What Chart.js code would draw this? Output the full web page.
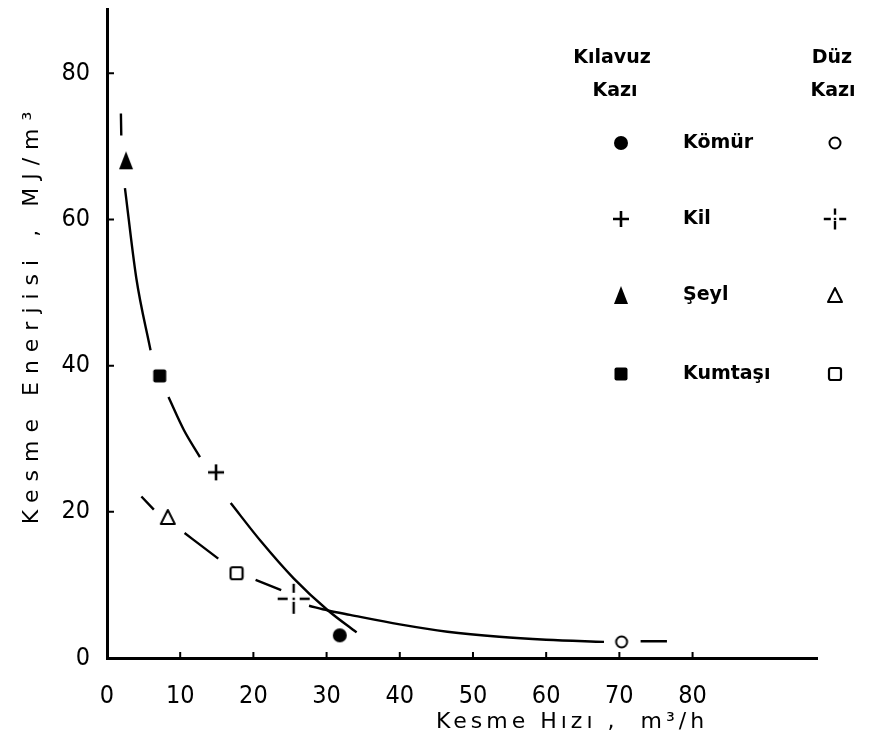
<!DOCTYPE html>
<html><head><meta charset="utf-8">
<script src="https://cdn.jsdelivr.net/npm/chart.js@4/dist/chart.umd.min.js"></script>
<style>html,body{margin:0;padding:0;background:#fff}#wrap{width:869px;height:748px;position:relative}</style>
</head><body><div id="wrap"><canvas id="c"></canvas></div>
<script>
// ---- data ----
const materials = ['Kömür', 'Kil', 'Şeyl', 'Kumtaşı'];
const kilavuzX = [31.8, 14.9, 2.6, 7.2];
const kilavuzY = [3.1, 25.4, 68.1, 38.6];
const duzX = [70.3, 25.5, 8.3, 17.7];
const duzY = [2.2, 8.1, 19.3, 11.6];
const kilavuzCurveX = [1.9, 1.95, null, 2.45, 4.0, 5.95, null, 8.4, 10.5, 12.7, null, 16.9, 21.0, 25.5, 30.2, 34.1];
const kilavuzCurveY = [74.5, 71.5, null, 64.3, 52.0, 42.1, null, 35.7, 31.2, 27.5, null, 21.2, 16.0, 10.9, 6.5, 3.5];
const duzCurveX = [4.7, 6.4, null, 10.6, 15.2, null, 20.3, 23.8, null, 27.6, 30.2, 33.2, 40.0, 46.5, 53.6, 60.0, 67.9, null, 72.9, 76.5];
const duzCurveY = [22.1, 20.3, null, 17.1, 13.6, null, 10.7, 9.3, null, 7.15, 6.5, 5.9, 4.6, 3.6, 2.9, 2.5, 2.2, null, 2.3, 2.3];
const xTicks = [0, 10, 20, 30, 40, 50, 60, 70, 80];
const yTicks = [0, 20, 40, 60, 80];
const xMax = 97, yMax = 88.8;
const xTitle = 'Kesme Hızı ,  m³/h';
const yTitle = 'Kesme Enerjisi , MJ/m³';
const legendHeadL = ['Kılavuz', 'Kazı'];
const legendHeadR = ['Düz', 'Kazı'];

// ---- marker glyphs ----
function mk(w, h, draw) {
  const c = document.createElement('canvas'); c.width = w; c.height = h;
  const g = c.getContext('2d'); g.fillStyle = '#000'; g.strokeStyle = '#000'; g.lineCap = 'butt';
  draw(g, w, h); return c;
}
function dashedCross(s) {
  const w = Math.round(34 * s), h = Math.round(32 * s);
  return mk(w, h, (g) => {
    const cx = w / 2, cy = h / 2;
    g.lineWidth = 2.4;
    g.beginPath();
    g.moveTo(cx - 16 * s, cy); g.lineTo(cx - 6 * s, cy);
    g.moveTo(cx + 6 * s, cy); g.lineTo(cx + 16 * s, cy);
    g.moveTo(cx, cy - 15 * s); g.lineTo(cx, cy - 6 * s);
    g.moveTo(cx, cy + 3 * s); g.lineTo(cx, cy + 15 * s);
    g.stroke();
    g.fillRect(cx - 1.2, cy - 1.2, 2.4, 2.4);
  });
}
const M = {
  filledCircle: mk(16, 16, g => { g.beginPath(); g.arc(8, 8, 7, 0, 2 * Math.PI); g.fill(); }),
  plus: mk(18, 18, g => { g.lineWidth = 2.6; g.beginPath(); g.moveTo(1, 9); g.lineTo(17, 9); g.moveTo(9, 1); g.lineTo(9, 17); g.stroke(); }),
  filledTriangle: mk(16, 20, g => { g.beginPath(); g.moveTo(8, 1); g.lineTo(15, 19); g.lineTo(1, 19); g.closePath(); g.fill(); }),
  filledSquare: mk(16, 16, g => { g.beginPath(); g.roundRect(1.5, 1.5, 13, 13, 2); g.fill(); }),
  openCircle: mk(16, 16, g => { g.lineWidth = 2; g.beginPath(); g.arc(8, 8, 5.5, 0, 2 * Math.PI); g.stroke(); }),
  dashedCross: dashedCross(1),
  dashedCrossSmall: dashedCross(0.7),
  openTriangle: mk(18, 18, g => { g.lineWidth = 2; g.lineJoin = 'round'; g.beginPath(); g.moveTo(9, 2); g.lineTo(16, 16); g.lineTo(2, 16); g.closePath(); g.stroke(); }),
  openSquare: mk(16, 16, g => { g.lineWidth = 2.2; g.beginPath(); g.roundRect(2, 2, 12, 12, 2); g.stroke(); })
};
const kilavuzMarkers = [M.filledCircle, M.plus, M.filledTriangle, M.filledSquare];
const duzMarkers = [M.openCircle, M.dashedCross, M.openTriangle, M.openSquare];
const duzLegendMarkers = [M.openCircle, M.dashedCrossSmall, M.openTriangle, M.openSquare];

const toPts = (xs, ys) => xs.map((x, i) => ({ x: x, y: ys[i] }));

const TICK_FONT = '"Liberation Sans Narrow", "DejaVu Sans Condensed", "Liberation Sans", sans-serif';

const decor = {
  id: 'decor',
  afterDraw(chart) {
    const ctx = chart.ctx, xs = chart.scales.x, ys = chart.scales.y;
    ctx.save();
    ctx.strokeStyle = '#000'; ctx.fillStyle = '#000'; ctx.lineWidth = 2;
    // inward tick marks
    ctx.beginPath();
    xTicks.forEach(v => { if (v === 0) return; const p = xs.getPixelForValue(v); ctx.moveTo(p, ys.bottom); ctx.lineTo(p, ys.bottom - 6); });
    yTicks.forEach(v => { if (v === 0) return; const p = ys.getPixelForValue(v); ctx.moveTo(xs.left, p); ctx.lineTo(xs.left + 7, p); });
    ctx.stroke();
    // axis titles
    ctx.font = '22px "DejaVu Sans", sans-serif';
    ctx.textBaseline = 'middle'; ctx.textAlign = 'center';
    ctx.letterSpacing = '4px';
    ctx.fillText(xTitle, 572, 722);
    ctx.save();
    ctx.translate(32, 314); ctx.rotate(-Math.PI / 2);
    ctx.letterSpacing = '8px';
    ctx.fillText(yTitle, 0, 0);
    ctx.restore();
    // legend
    ctx.letterSpacing = '0px';
    ctx.font = 'bold 19px "DejaVu Sans", sans-serif';
    ctx.textAlign = 'center';
    ctx.fillText(legendHeadL[0], 612, 58);
    ctx.fillText(legendHeadL[1], 615, 91);
    ctx.fillText(legendHeadR[0], 832, 58);
    ctx.fillText(legendHeadR[1], 833, 91);
    const rows = [143, 219, 295, 374];
    ctx.textAlign = 'left';
    materials.forEach((m, i) => {
      const y = rows[i];
      const a = kilavuzMarkers[i], b = duzLegendMarkers[i];
      ctx.drawImage(a, 621 - a.width / 2, y - a.height / 2);
      ctx.fillText(m, 683, y);
      ctx.drawImage(b, 835 - b.width / 2, y - b.height / 2);
    });
    ctx.restore();
  }
};

new Chart(document.getElementById('c'), {
  type: 'scatter',
  data: {
    datasets: [
      { label: 'Kılavuz eğri', data: toPts(kilavuzCurveX, kilavuzCurveY), showLine: true, borderColor: '#000', borderWidth: 2.4, pointRadius: 0, spanGaps: false, cubicInterpolationMode: 'monotone' },
      { label: 'Düz eğri', data: toPts(duzCurveX, duzCurveY), showLine: true, borderColor: '#000', borderWidth: 2.4, pointRadius: 0, spanGaps: false, cubicInterpolationMode: 'monotone' },
      { label: 'Kılavuz Kazı', data: toPts(kilavuzX, kilavuzY), pointStyle: kilavuzMarkers, pointRadius: 8, showLine: false },
      { label: 'Düz Kazı', data: toPts(duzX, duzY), pointStyle: duzMarkers, pointRadius: 8, showLine: false }
    ]
  },
  options: {
    responsive: true, maintainAspectRatio: false, animation: false,
    layout: { padding: { top: -6, right: 52, left: 0, bottom: 0 } },
    plugins: { legend: { display: false }, tooltip: { enabled: false } },
    scales: {
      x: {
        type: 'linear', min: 0, max: xMax,
        afterBuildTicks: s => { s.ticks = xTicks.map(v => ({ value: v })); },
        afterFit: s => { s.height = 90; s.paddingLeft = 0; s.paddingRight = 0; },
        grid: { display: false },
        border: { display: true, color: '#000', width: 3 },
        ticks: { color: '#000', padding: 15, font: { family: TICK_FONT, size: 25 }, maxRotation: 0 }
      },
      y: {
        type: 'linear', min: 0, max: yMax,
        afterBuildTicks: s => { s.ticks = yTicks.map(v => ({ value: v })); },
        afterFit: s => { s.width = 107; s.paddingTop = 0; s.paddingBottom = 0; },
        grid: { display: false },
        border: { display: true, color: '#000', width: 3 },
        ticks: { color: '#000', padding: 9, font: { family: TICK_FONT, size: 25 } }
      }
    }
  },
  plugins: [decor]
});
</script>
</body></html>
